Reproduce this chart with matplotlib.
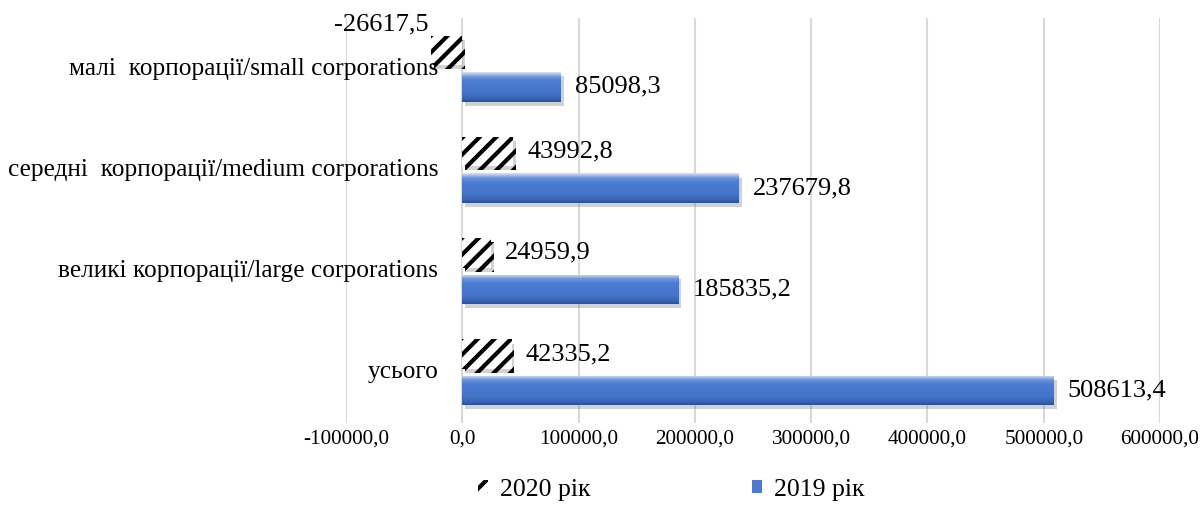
import numpy as np
import matplotlib
matplotlib.use("Agg")
import matplotlib.pyplot as plt
import matplotlib.patheffects as pe
from matplotlib.colors import LinearSegmentedColormap
from matplotlib.patches import Patch
from matplotlib.ticker import FuncFormatter, MultipleLocator

SERIF = ["Liberation Serif", "DejaVu Serif"]
plt.rcParams["font.family"] = SERIF
plt.rcParams["hatch.color"] = "black"
plt.rcParams["hatch.linewidth"] = 3.0

# категорії знизу вгору
categories = [
    "усього",
    "великі корпорації/large corporations",
    "середні  корпорації/medium corporations",
    "малі  корпорації/small corporations",
]
values_2019 = [508613.4, 185835.2, 237679.8, 85098.3]
values_2020 = [42335.2, 24959.9, 43992.8, -26617.5]
series_names = ["2020 рік", "2019 рік"]

BLUE = "#4a7bd0"
blue_grad = LinearSegmentedColormap.from_list(
    "bevel",
    [(0.0, "#2c5293"), (0.12, "#3a66b4"), (0.3, "#4574c8"), (0.7, "#4b7dd3"),
     (0.85, "#6a95e0"), (0.93, "#a4bff0"), (1.0, "#d2e0f7")],
)


def fmt(v, _pos=None):
    return f"{v:.1f}".replace(".", ",")


fig = plt.figure(figsize=(12.02, 5.18), dpi=100)
ax = fig.add_axes([0.2879, 0.1834, 0.6772, 0.7819])

y = np.arange(len(categories))
h = 0.29
off = 0.18

shadow = [pe.SimplePatchShadow(offset=(2, -3), shadow_rgbFace="#808080", alpha=0.35), pe.Normal()]

bars19 = ax.barh(y - off, values_2019, height=h, color=BLUE, zorder=3)
bars20 = ax.barh(y + off, values_2020, height=h, color="white", hatch="//", zorder=3)

for b in list(bars19) + list(bars20):
    b.set_path_effects(shadow)

# об'ємна заливка синіх смуг
grad = np.linspace(1, 0, 60).reshape(-1, 1)
for b in bars19:
    x0, yb = b.get_x(), b.get_y()
    im = ax.imshow(grad, cmap=blue_grad, aspect="auto", zorder=3.1,
                   extent=(x0, x0 + b.get_width(), yb, yb + b.get_height()))
    im.set_clip_path(b)

# підписи значень
for b, v in zip(bars19, values_2019):
    ax.annotate(fmt(v), xy=(v, b.get_y() + b.get_height() / 2), xytext=(14, 0),
                textcoords="offset pixels", ha="left", va="center", fontsize=19)
for b, v in zip(bars20, values_2020):
    yc = b.get_y() + b.get_height() / 2
    if v >= 0:
        ax.annotate(fmt(v), xy=(v, yc), xytext=(14, 0),
                    textcoords="offset pixels", ha="left", va="center", fontsize=19)
    else:
        ax.annotate(fmt(v), xy=(v, yc), xytext=(-3, 26),
                    textcoords="offset pixels", ha="right", va="center", fontsize=19,
                    annotation_clip=False)

# назви категорій біля нульової осі
for i, name in enumerate(categories):
    ax.annotate(name, xy=(0, i), xytext=(-24, 0), textcoords="offset pixels",
                ha="right", va="center", fontsize=18.3, annotation_clip=False)

ax.set_xlim(-100000, 600000)
ax.set_ylim(-0.5, len(categories) - 0.5)
ax.xaxis.set_major_locator(MultipleLocator(100000))
ax.xaxis.set_major_formatter(FuncFormatter(fmt))
ax.set_yticks([])
ax.tick_params(axis="x", length=0, pad=5, labelsize=15.3)
ax.grid(axis="x", color="#d9d9d9", lw=1.5, zorder=0)
ax.set_axisbelow(True)
for s in ax.spines.values():
    s.set_visible(False)

handles = [Patch(facecolor="white", hatch="//", label=series_names[0]),
           Patch(facecolor=BLUE, label=series_names[1])]
fig.legend(handles=handles, loc="center", bbox_to_anchor=(671 / 1202, 1 - 490 / 518),
           ncol=2, frameon=False, prop={"family": SERIF, "size": 18.5},
           handlelength=0.4, handleheight=0.4, handletextpad=0.45, columnspacing=6.3)

fig.savefig("out.png", dpi=100)
